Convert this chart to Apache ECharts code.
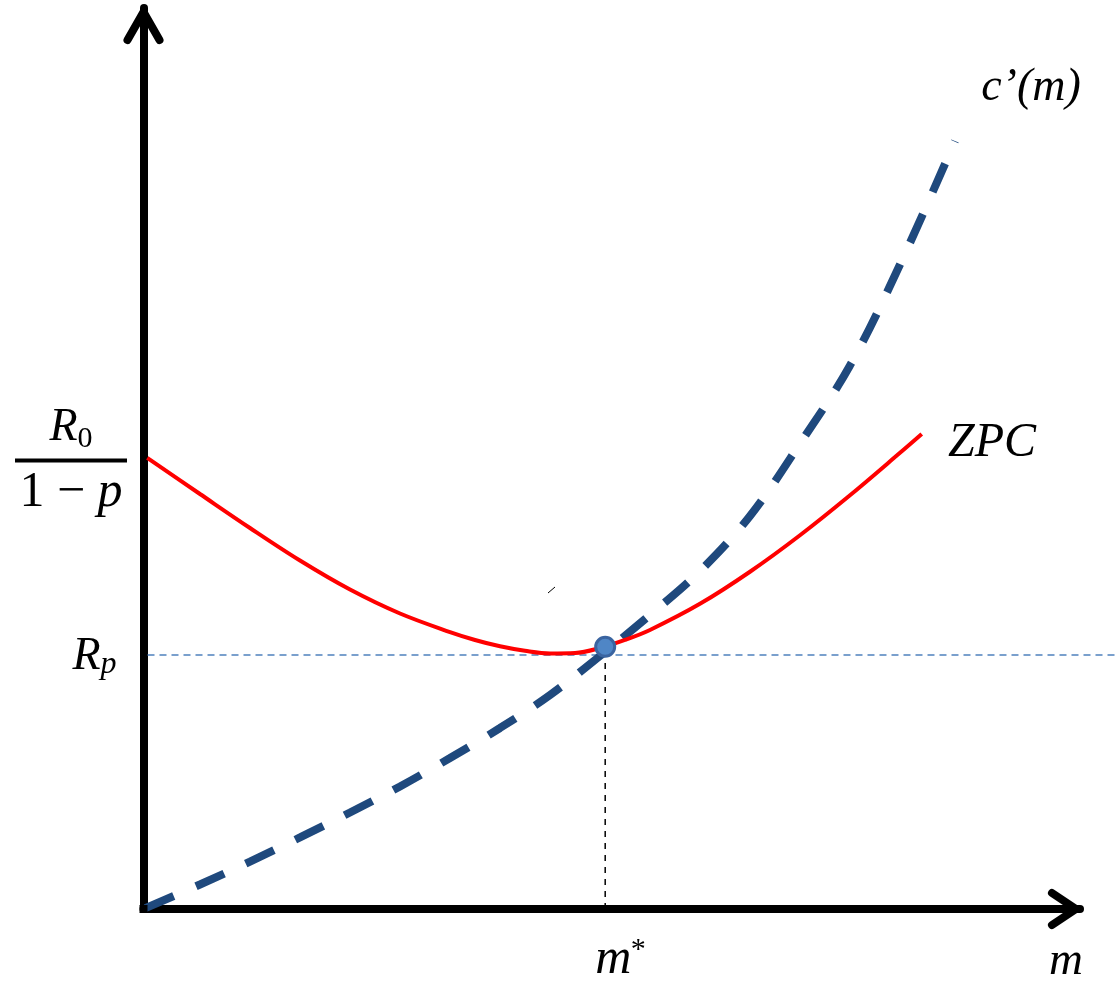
<!DOCTYPE html>
<html lang="en">
<head>
  <meta charset="UTF-8">
  <title>ZPC and c'(m)</title>
  <style>
    * { margin: 0; padding: 0; }
    body { background: #ffffff; }
    #chart { width: 1118px; height: 985px; }
  </style>
</head>
<body>
  <div id="chart"></div>

  <script src="https://cdn.jsdelivr.net/npm/echarts@6/dist/echarts.min.js"></script>
  <script type="text/javascript">
  // curve values (axis units 0..10)
  var costX = [0.02, 0.603, 1.137, 1.671, 2.205, 2.739, 3.273, 3.807, 4.341, 4.874, 5.408, 5.942, 6.476, 7.010, 7.544, 8.078, 8.665];
  var costY = [0.01, 0.272, 0.527, 0.794, 1.071, 1.360, 1.676, 2.009, 2.375, 2.808, 3.263, 3.751, 4.362, 5.166, 6.033, 7.153, 8.524];
  var zpcX = [0.04, 0.603, 1.137, 1.671, 2.205, 2.739, 3.273, 3.540, 3.807, 4.073, 4.341, 4.608, 4.874, 5.141, 5.408, 5.942, 6.476, 7.010, 7.544, 8.078, 8.310];
  var zpcY = [5.006, 4.606, 4.229, 3.868, 3.546, 3.280, 3.074, 2.986, 2.916, 2.866, 2.836, 2.841, 2.897, 2.986, 3.097, 3.387, 3.743, 4.148, 4.592, 5.063, 5.272];
  var mStar = 4.93;
  var dotY = 2.91;
  var rP = 2.82;
  var rZero = 5.0;

  var G = { left: 143.5, right: 38, top: 8, bottom: 76 };

  function zip(xs, ys) {
    return xs.map(function (x, i) { return [x, ys[i]]; });
  }

  function txt(x, y, text, size, style, align) {
    return {
      type: 'text', x: x, y: y, z: 10,
      style: {
        text: text,
        fontSize: size,
        fontFamily: 'Liberation Serif',
        fontStyle: style,
        fill: '#000',
        align: align,
        verticalAlign: 'middle'
      }
    };
  }

  function main () {
    var chart = echarts.init(document.getElementById('chart'));
    var axisBase = {
      type: 'value', min: 0, max: 10,
      axisLine: { show: true, lineStyle: { color: '#000', width: 8 } },
      axisTick: { show: false },
      axisLabel: { show: false },
      splitLine: { show: false }
    };
    chart.setOption({
      animation: false,
      grid: { left: G.left, right: G.right, top: G.top, bottom: G.bottom },
      xAxis: axisBase,
      yAxis: axisBase,
      series: [
        {
          type: 'line', data: [[mStar, 0], [mStar, rP]], symbol: 'none', silent: true,
          lineStyle: { color: '#000', width: 1.5, type: [6, 6] }, z: 2
        },
        {
          type: 'line', data: zip(costX, costY), symbol: 'none', smooth: 0.35, silent: true,
          lineStyle: { color: '#1F497D', width: 8, type: [31, 24], cap: 'butt' }, z: 3
        },
        {
          type: 'line', data: zip(zpcX, zpcY), symbol: 'none', smooth: 0.35, silent: true,
          lineStyle: { color: '#FF0000', width: 4 }, z: 4
        },
        {
          type: 'scatter', data: [[mStar, dotY]], symbolSize: 19, silent: true,
          itemStyle: { color: '#4F86C6', borderColor: '#3A64A0', borderWidth: 3, opacity: 1 }, z: 5
        }
      ]
    });

    var o = chart.convertToPixel({ gridIndex: 0 }, [0, 0]);
    var ax = o[0], ay = o[1];
    var xEnd = 1118 - G.right;
    var rpY = chart.convertToPixel({ gridIndex: 0 }, [0, rP])[1];
    var r0Y = chart.convertToPixel({ gridIndex: 0 }, [0, rZero])[1];
    var msX = chart.convertToPixel({ gridIndex: 0 }, [mStar, 0])[0];
    var arrowStyle = { stroke: '#000', lineWidth: 8, lineCap: 'round', lineJoin: 'round', fill: null };

    chart.setOption({
      graphic: [
        // R_p guide line runs past the axis end to the page edge
        { type: 'line', shape: { x1: ax + 4, y1: rpY, x2: 1118, y2: rpY }, style: { stroke: '#4F81BD', lineWidth: 1.5, lineDash: [7, 5] }, z: 1 },
        { type: 'rect', shape: { x: ax - 4, y: ay - 4, width: 8, height: 8 }, style: { fill: '#000' }, z: 10 },
        { type: 'polyline', shape: { points: [[ax - 16, G.top + 32], [ax, G.top + 4], [ax + 16, G.top + 32]] }, style: arrowStyle, z: 10 },
        { type: 'polyline', shape: { points: [[xEnd - 28, ay - 16], [xEnd - 4, ay], [xEnd - 28, ay + 16]] }, style: arrowStyle, z: 10 },
        { type: 'line', shape: { x1: 548, y1: 593, x2: 555, y2: 587 }, style: { stroke: '#000', lineWidth: 1 }, z: 10 },

        // R0 / (1 - p)
        txt(ax - 66, r0Y - 31, 'R', 46, 'italic', 'right'),
        txt(ax - 66, r0Y - 19, '0', 30, 'normal', 'left'),
        { type: 'line', shape: { x1: 15, y1: r0Y + 2, x2: 127, y2: r0Y + 2 }, style: { stroke: '#000', lineWidth: 4 }, z: 10 },
        {
          type: 'text', x: 71, y: r0Y + 34, z: 10,
          style: {
            text: '{a|1 − }{b|p}', align: 'center', verticalAlign: 'middle',
            rich: {
              a: { fontSize: 50, fontFamily: 'Liberation Serif', fontStyle: 'normal', fill: '#000' },
              b: { fontSize: 50, fontFamily: 'Liberation Serif', fontStyle: 'italic', fill: '#000' }
            }
          }
        },

        // R_p
        txt(ax - 43, rpY + 2, 'R', 46, 'italic', 'right'),
        txt(ax - 43, rpY + 10, 'p', 32, 'italic', 'left'),

        // m*
        txt(msX + 8, 960, 'm', 50, 'italic', 'center'),
        txt(msX + 33, 950, '*', 30, 'normal', 'center'),

        // m
        txt(1066, 962, 'm', 47, 'italic', 'center'),

        // c'(m)
        txt(1031, 88, 'c’(m)', 46, 'italic', 'center'),

        // ZPC
        txt(948, 443, 'ZPC', 48, 'italic', 'left')
      ]
    });
  }

  window.addEventListener('load', main);
  </script>
</body>
</html>
